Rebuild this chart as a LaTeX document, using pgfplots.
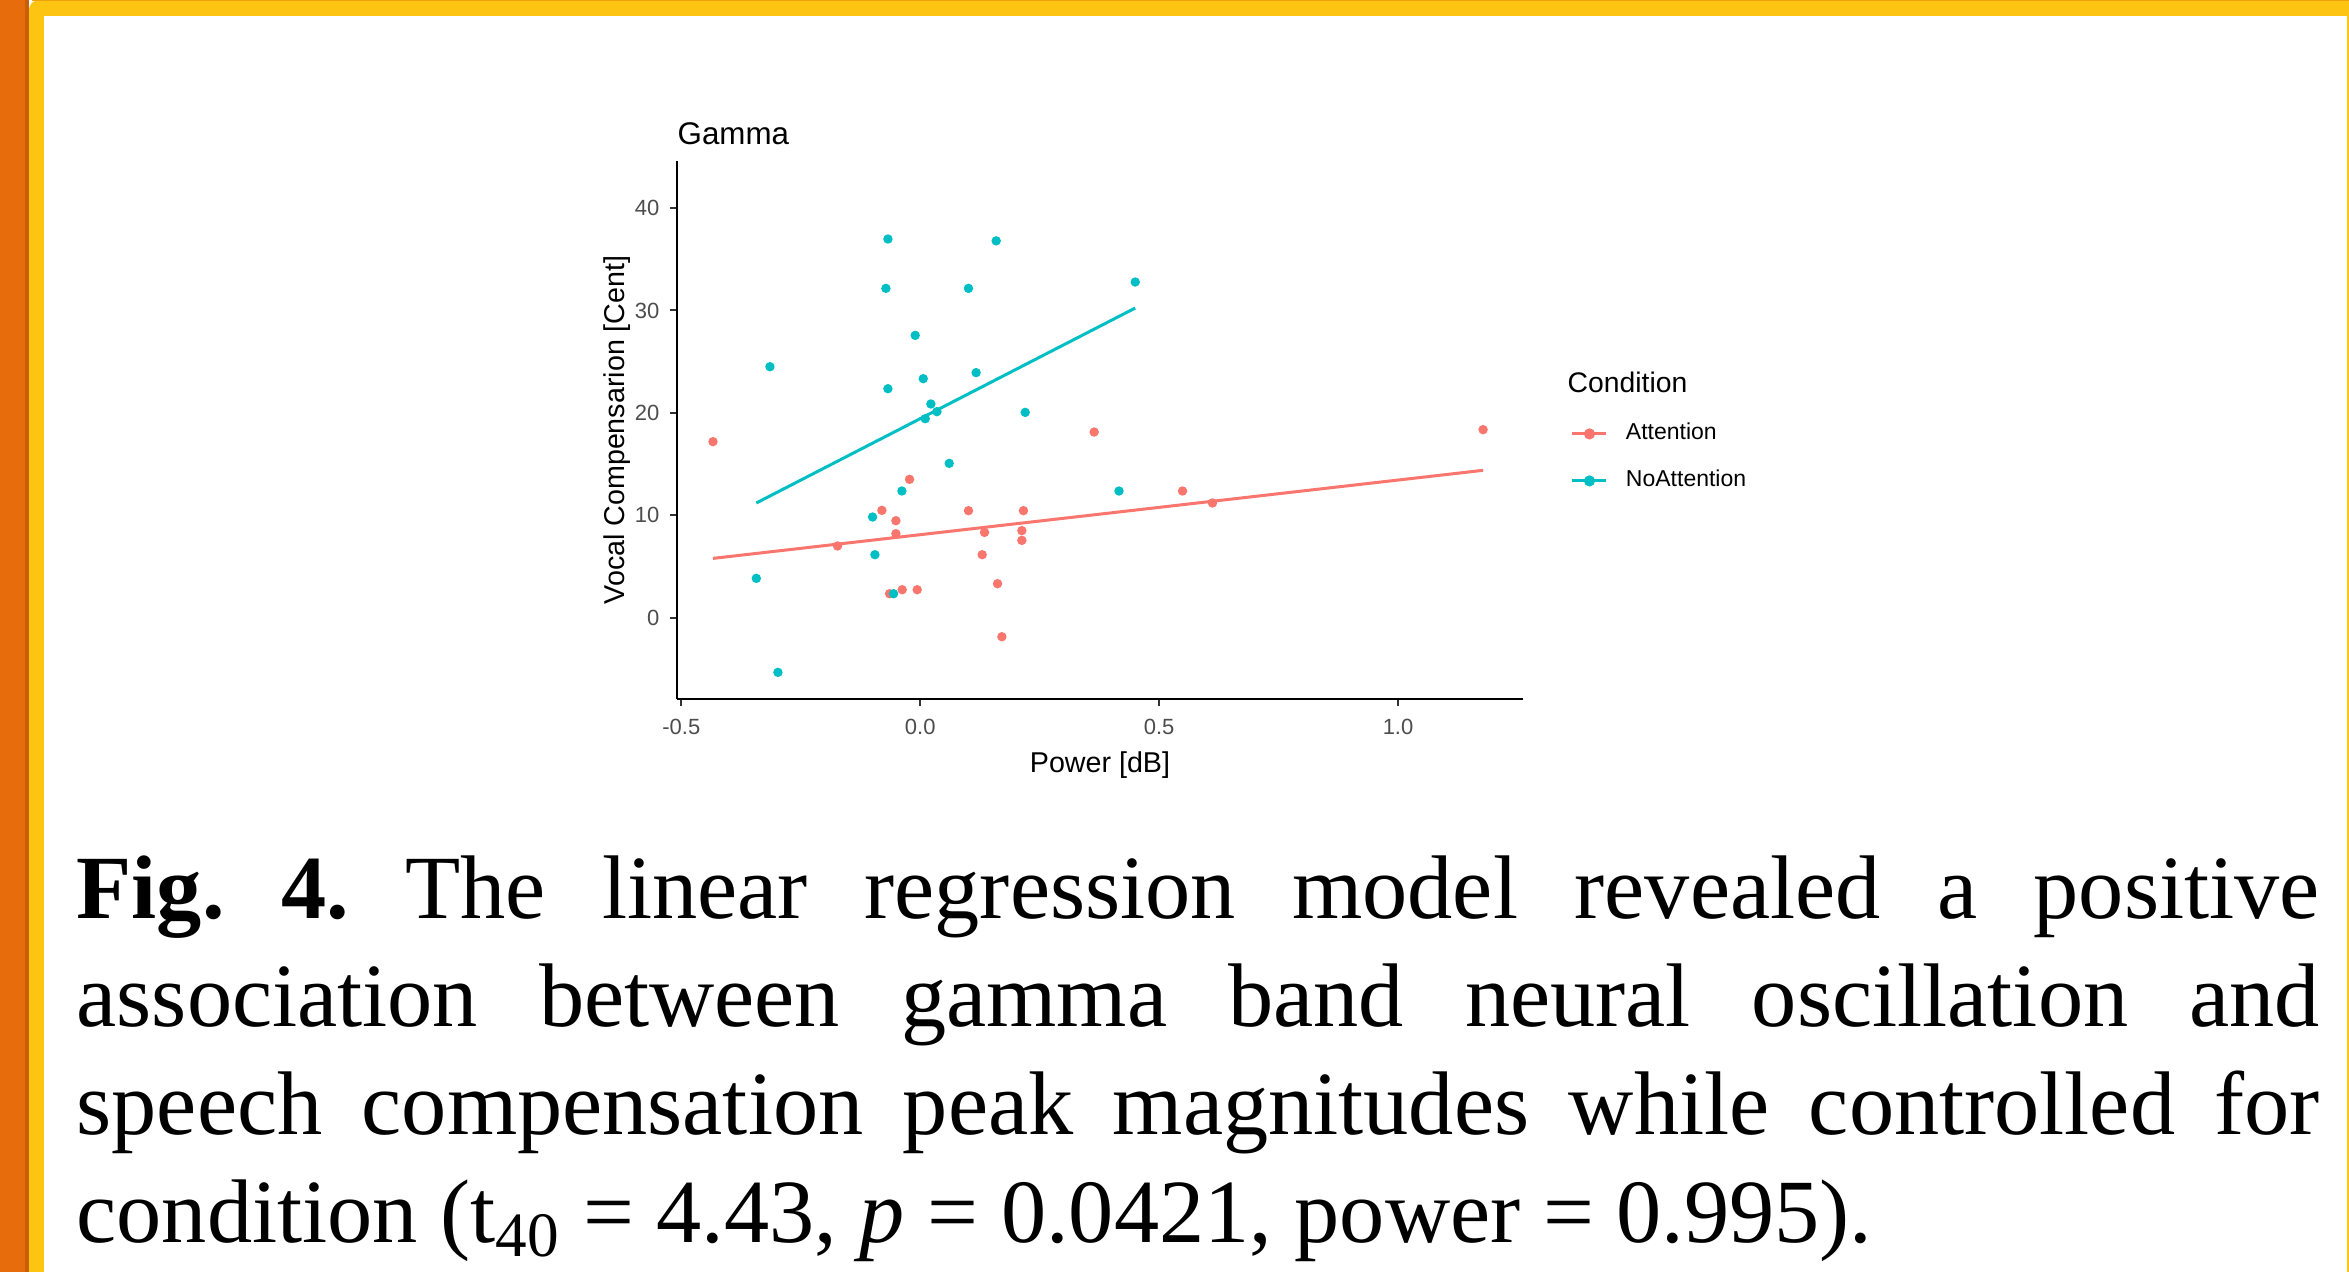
\documentclass[border=0pt]{standalone}
\usepackage{pgfplots}
\pgfplotsset{compat=1.18}
\usepackage{fontspec}
\setmainfont{Liberation Sans}
\newfontfamily\capfont{Liberation Serif}
\definecolor{gred}{HTML}{F8766D}
\definecolor{gcyan}{HTML}{00BFC4}
\definecolor{slideorange}{RGB}{230,108,12}
\definecolor{slideorangedk}{RGB}{200,95,10}
\definecolor{slideyellow}{RGB}{254,196,18}
\definecolor{slideline}{RGB}{240,160,12}
\definecolor{tickgray}{HTML}{4D4D4D}

\pgfplotstableread{
x y
-0.4337 17.19
-0.173 7.00
-0.0802 10.48
-0.0642 2.34
-0.0509 9.47
-0.0509 8.20
-0.0377 2.73
-0.0223 13.51
-0.0063 2.73
0.101 10.45
0.1297 6.15
0.1346 8.33
0.1618 3.32
0.1709 -1.86
0.2127 8.50
0.2127 7.55
0.216 10.45
0.364 18.13
0.549 12.37
0.6116 11.20
1.178 18.36
}\attention

\pgfplotstableread{
x y
-0.343 3.84
-0.3145 24.51
-0.2978 -5.34
-0.0997 9.83
-0.0948 6.15
-0.0718 32.16
-0.0676 36.98
-0.0676 22.36
-0.0558 2.34
-0.0383 12.37
-0.0105 27.57
0.0063 23.34
0.0105 19.43
0.0223 20.87
0.035 20.12
0.0607 15.07
0.101 32.16
0.117 23.93
0.159 36.8
0.2197 20.05
0.416 12.37
0.450 32.78
}\noattention

\begin{document}
\frenchspacing
\begin{tikzpicture}
\useasboundingbox (0,0) rectangle (704.7pt,381.6pt);
\fill[slideorange] (0,0) rectangle (7.5pt,381.6pt);
\fill[slideorangedk] (7.5pt,0) rectangle (8.7pt,381.6pt);
\fill[slideyellow] (8.7pt,0) [rounded corners=3pt] -- (8.7pt,381.6pt) [sharp corners] -- (704.7pt,381.6pt) -- (704.7pt,0) -- cycle;
\fill[slideline] (9.6pt,381.2pt) rectangle (704.7pt,381.6pt);
\fill[white] (13.2pt,0) rectangle (704.1pt,376.8pt);

\begin{axis}[
  at={(203.1pt,171.9pt)}, anchor=south west,
  scale only axis, width=253.8pt, height=161.4pt,
  xmin=-0.509, xmax=1.2615, ymin=-7.94, ymax=44.6,
  axis x line*=bottom, axis y line*=left,
  axis line style={black, line width=0.6pt, -},
  tick pos=left,
  tick align=outside,
  major tick length=2.1pt,
  tick style={black!80, line width=0.6pt},
  xtick={-0.5,0,0.5,1}, xticklabels={-0.5,0.0,0.5,1.0},
  ytick={0,10,20,30,40}, yticklabels={0,10,20,30,40},
  /pgf/number format/assume math mode=true,
  ticklabel style={font=\fontsize{6.6}{7}\selectfont, text=tickgray, inner sep=0pt},
  xticklabel style={anchor=north, yshift=-3.6pt},
  yticklabel style={anchor=east, xshift=-3.0pt},
  every axis title shift=0pt,
  title={Gamma},
  title style={at={(axis description cs:0,1.031)}, anchor=base west, inner sep=0pt, font=\fontsize{9.4}{11}\selectfont},
  xlabel={Power [dB]},
  xlabel style={at={(axis description cs:0.5,-0.136)}, anchor=base, inner sep=0pt, font=\fontsize{8.6}{10}\selectfont},
  ylabel={Vocal Compensarion [Cent]},
  ylabel style={at={(axis description cs:-0.0615,0.5)}, anchor=base, inner sep=0pt, font=\fontsize{8.6}{10}\selectfont},
  legend style={at={(axis description cs:1.0567,0.449)}, anchor=west, draw=none, fill=none,
    inner sep=0pt, outer sep=0pt, row sep=7.6pt, column sep=5.4pt,
    font=\fontsize{6.9}{8}\selectfont, nodes={inner sep=0pt, text=black}},
  legend cell align=left,
  legend image code/.code={\draw[line width=0.9pt] (0pt,0pt) -- (10.2pt,0pt); \fill (5.1pt,0pt) circle (1.2pt);},
]
\addplot[only marks, mark=*, mark size=1.2pt, color=gred, forget plot] table[x=x,y=y] {\attention};
\addplot[only marks, mark=*, mark size=1.2pt, color=gcyan, forget plot] table[x=x,y=y] {\noattention};
\addplot[gred, line width=0.9pt] coordinates {(-0.4337,5.79) (1.178,14.39)};
\addlegendentry{Attention}
\addplot[gcyan, line width=0.9pt] coordinates {(-0.343,11.2) (0.450,30.24)};
\addlegendentry{NoAttention}
\end{axis}

\node[anchor=base west, inner sep=0pt, font=\fontsize{8.5}{10}\selectfont] at (470.1pt,263.7pt) {Condition};

\begin{scope}[every node/.style={anchor=base west, inner sep=0pt, font=\capfont\fontsize{27.1}{32}\selectfont}]
\node at (22.8pt,105.9pt) {\makebox[672.9pt][s]{\textbf{Fig. 4.} The linear regression model revealed a positive}};
\node at (22.8pt,73.5pt) {\makebox[672.9pt][s]{association between gamma band neural oscillation and}};
\node at (22.8pt,41.1pt) {\makebox[672.9pt][s]{speech compensation peak magnitudes while controlled for}};
\node at (22.8pt,8.7pt) {condition (t\textsubscript{40} = 4.43, \textit{p} = 0.0421, power = 0.995).};
\end{scope}
\end{tikzpicture}
\end{document}
